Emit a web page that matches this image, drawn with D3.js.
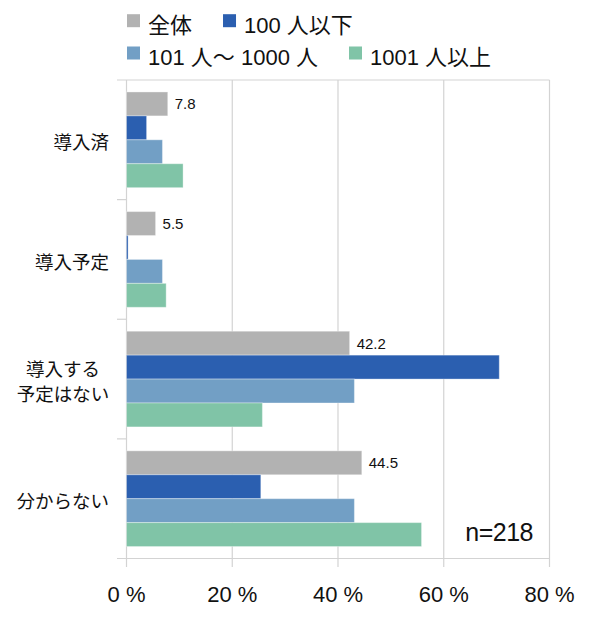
<!DOCTYPE html>
<html>
<head>
<meta charset="utf-8">
<script src="https://cdn.jsdelivr.net/npm/d3@7"></script>
<style>
body { margin: 0; background: #fff; }
text { font-family: "Liberation Sans", "Noto Sans CJK JP", sans-serif; fill: #111; }
</style>
</head>
<body>
<svg id="chart" width="590" height="618"></svg>
<script>
var categories = ["導入済", "導入予定", "導入する\n予定はない", "分からない"];
var seriesNames = ["全体", "100 人以下", "101 人～ 1000 人", "1001 人以上"];
var seriesColors = ["#b2b2b2", "#2b5fb0", "#729fc5", "#80c4a7"];
// values per series, in category order (%)
var allValues = [7.8, 5.5, 42.2, 44.5];
var small = [3.8, 0.3, 70.5, 25.4];
var medium = [6.8, 6.8, 43.1, 43.1];
var large = [10.7, 7.5, 25.7, 55.8];
var xTicks = [0, 20, 40, 60, 80];
var sampleNote = "n=218";

var seriesValues = [allValues, small, medium, large];

var svg = d3.select("#chart");

var xscale = d3.scaleLinear().domain([0, 80]).range([126.5, 549.5]);
var yscale = d3.scaleBand().domain(categories).range([80, 558.5]);
var inner = d3.scaleBand().domain(d3.range(seriesNames.length))
	.range([0, yscale.bandwidth()]).paddingOuter(0.5);

var gridColor = "#d3d3d3";

// gridlines
svg.selectAll(".grid").data(xTicks.slice(1))
	.enter().append("line")
		.attr("x1", function(d){ return xscale(d); })
		.attr("x2", function(d){ return xscale(d); })
		.attr("y1", 80).attr("y2", 567)
		.attr("stroke", gridColor).attr("stroke-width", 1.2);

// category boundaries (ticks on the left, top and bottom lines span the plot)
var bounds = categories.map(function(c){ return yscale(c); }).concat([yscale.range()[1]]);
svg.selectAll(".ctick").data(bounds)
	.enter().append("line")
		.attr("x1", 117)
		.attr("x2", function(d,i){ return (i === 0 || i === bounds.length-1) ? xscale(80) : xscale(0); })
		.attr("y1", function(d){ return d; })
		.attr("y2", function(d){ return d; })
		.attr("stroke", gridColor).attr("stroke-width", 1.2);

// left axis line + bottom tick at 0
svg.append("line")
	.attr("x1", xscale(0)).attr("x2", xscale(0))
	.attr("y1", 80).attr("y2", 567)
	.attr("stroke", gridColor).attr("stroke-width", 1.2);

// bars
seriesValues.forEach(function(vals, s){
	svg.selectAll(".bar-" + s).data(vals)
		.enter().append("rect")
			.attr("x", xscale(0))
			.attr("y", function(d,i){ return yscale(categories[i]) + inner(s); })
			.attr("width", function(d){ return xscale(d) - xscale(0); })
			.attr("height", inner.bandwidth())
			.attr("fill", seriesColors[s])
			.attr("stroke", "#ffffff")
			.attr("stroke-opacity", 0.35)
			.attr("stroke-width", 1);
});

// data labels for the total series
svg.selectAll(".dlabel").data(allValues)
	.enter().append("text")
		.attr("x", function(d){ return xscale(d) + 7; })
		.attr("y", function(d,i){ return yscale(categories[i]) + inner(0) + inner.bandwidth()/2; })
		.attr("dy", "0.36em")
		.attr("font-size", 15)
		.text(function(d){ return d.toFixed(1); });

// category labels
categories.forEach(function(c){
	var lines = c.split("\n");
	var cy = yscale(c) + yscale.bandwidth()/2 + 3;
	var lh = 25;
	var t = svg.append("text")
		.attr("font-size", 18.5)
		.attr("font-family", "Noto Sans CJK JP");
	lines.forEach(function(l, k){
		t.append("tspan")
			.attr("x", lines.length > 1 ? 63 : 109)
			.attr("text-anchor", lines.length > 1 ? "middle" : "end")
			.attr("y", cy + (k - (lines.length-1)/2) * lh)
			.attr("dy", "0.35em")
			.text(l);
	});
});

// x tick labels
svg.selectAll(".xlabel").data(xTicks)
	.enter().append("text")
		.attr("x", function(d){ return xscale(d); })
		.attr("y", 602)
		.attr("text-anchor", "middle")
		.attr("font-size", 22)
		.text(function(d){ return d + " %"; });

// sample note
svg.append("text")
	.attr("x", 533).attr("y", 541)
	.attr("text-anchor", "end")
	.attr("font-size", 25)
	.attr("font-family", "DejaVu Sans Condensed, Liberation Sans")
	.attr("letter-spacing", -0.5)
	.text(sampleNote);

// legend, two rows, items placed one after another
var legendRows = [[0, 1], [2, 3]];
var rowY = [20.7, 53];
legendRows.forEach(function(row, r){
	var x = 127;
	row.forEach(function(s){
		svg.append("rect")
			.attr("x", x).attr("y", rowY[r] - 6.5)
			.attr("width", 13).attr("height", 13)
			.attr("fill", seriesColors[s]);
		var t = svg.append("text")
			.attr("x", x + 21).attr("y", rowY[r] + 12)
			.attr("font-size", 22)
			.text(seriesNames[s]);
		x = x + 21 + t.node().getComputedTextLength() + 31;
	});
});
</script>
</body>
</html>
